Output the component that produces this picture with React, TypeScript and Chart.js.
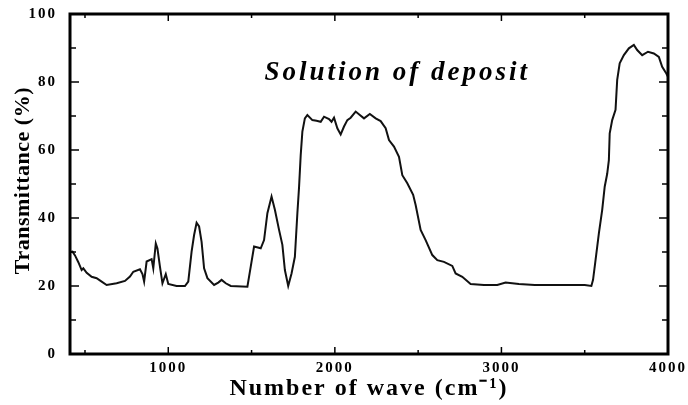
import React, { useEffect, useRef } from "react";
import { Chart, registerables } from "chart.js";

Chart.register(...registerables);

// IR spectrum of the deposit solution: wavenumber (cm-1) vs transmittance (%)
const wavenumbers = [
  410, 425, 440, 460, 480, 490, 510, 540, 570, 600, 630, 690, 740, 770, 790, 830, 845, 855, 870, 900,
  910, 925, 935, 950, 965, 985, 1000, 1050, 1100, 1120, 1140, 1155, 1170, 1185, 1200, 1215, 1235, 1275,
  1300, 1320, 1345, 1375, 1475, 1495, 1515, 1555, 1575, 1595, 1620, 1640, 1665, 1685, 1700, 1720, 1740,
  1760, 1775, 1785, 1795, 1805, 1820, 1835, 1865, 1890, 1915, 1935, 1965, 1980, 1995, 2015, 2035, 2055,
  2075, 2095, 2125, 2150, 2175, 2210, 2245, 2275, 2305, 2325, 2355, 2385, 2405, 2435, 2470, 2485, 2515,
  2545, 2585, 2615, 2655, 2705, 2725, 2765, 2815, 2895, 2975, 3025, 3105, 3200, 3300, 3400, 3500, 3540,
  3550, 3565, 3585, 3605, 3620, 3635, 3645, 3650, 3665, 3685, 3695, 3710, 3735, 3765, 3795, 3815, 3845,
  3880, 3915, 3945, 3965, 3990, 4000,
];
const transmittance = [
  30.0, 30.1, 29.0, 27.0, 24.7, 25.2, 23.9, 22.7, 22.3, 21.3, 20.3, 20.8, 21.5, 22.8, 24.2, 24.9, 23.5, 21.3, 27.2, 27.9,
  25.2, 32.5, 31.0, 25.7, 20.8, 23.5, 20.6, 20.0, 20.0, 21.3, 30.1, 35.0, 38.6, 37.5, 33.0, 25.2, 22.3, 20.3,
  21.0, 21.8, 20.8, 20.0, 19.8, 25.7, 31.6, 31.1, 33.5, 41.4, 46.3, 42.4, 36.5, 32.1, 24.7, 20.0, 23.7,
  28.6, 41.4, 49.0, 58.5, 65.4, 69.3, 70.3, 68.8, 68.6, 68.3, 69.8, 69.1, 68.3, 69.5, 66.4, 64.6, 66.9,
  68.8, 69.5, 71.3, 70.3, 69.3, 70.6, 69.3, 68.5, 66.4, 62.9, 61.0, 58.0, 52.6, 50.2, 46.8, 43.8, 36.5,
  33.5, 29.1, 27.6, 27.1, 25.9, 23.7, 22.7, 20.6, 20.3, 20.3, 21.0, 20.6, 20.3, 20.3, 20.3, 20.3, 20.0,
  21.8, 27.6, 35.5, 42.4, 49.2, 53.0, 57.0, 64.9, 68.8, 71.8, 80.6, 85.5, 87.9, 89.9, 90.9, 89.4, 87.9,
  88.9, 88.4, 87.4, 84.5, 82.5, 81.5,
];

const xMajorTicks = [1000, 2000, 3000, 4000];
const xMinorTicks = [500, 1500, 2500, 3500];
const yMajorTicks = [0, 20, 40, 60, 80, 100];
const yMinorTicks = [10, 30, 50, 70, 90];

const chartTitle = "Solution of deposit";
const xTitle = "Number of wave (cm\u207B\u00B9)";
const yTitle = "Transmittance (%)";

const SERIF = '"Liberation Serif", "Times New Roman", serif';

// Wide letter spacing for the axis text drawn by Chart.js
const spacingPlugin = {
  id: "spacing",
  beforeDraw(chart: any) {
    (chart.ctx as any).letterSpacing = "2px";
  },
};

// Boxed frame with inward ticks on all four sides, the y title and the in-plot caption
const framePlugin = {
  id: "frameTicks",
  afterDraw(chart: any) {
    const { ctx, chartArea } = chart;
    const { left, right, top, bottom } = chartArea;
    const x = chart.scales.x;
    const y = chart.scales.y;
    ctx.save();
    ctx.strokeStyle = "#000";
    ctx.lineWidth = 3;
    ctx.strokeRect(left, top, right - left, bottom - top);

    ctx.lineWidth = 1.5;
    const tick = (x1: number, y1: number, x2: number, y2: number) => {
      ctx.beginPath();
      ctx.moveTo(x1, y1);
      ctx.lineTo(x2, y2);
      ctx.stroke();
    };
    const xTicks = (vals: number[], len: number) => {
      vals.forEach((v) => {
        const px = x.getPixelForValue(v);
        tick(px, bottom, px, bottom - len);
        tick(px, top, px, top + len);
      });
    };
    const yTicks = (vals: number[], len: number) => {
      vals.forEach((v) => {
        const py = y.getPixelForValue(v);
        tick(left, py, left + len, py);
        tick(right, py, right - len, py);
      });
    };
    xTicks(xMajorTicks, 7);
    xTicks(xMinorTicks, 4);
    yTicks(yMajorTicks, 9);
    yTicks(yMinorTicks, 6);

    ctx.fillStyle = "#000";
    ctx.textAlign = "center";
    ctx.textBaseline = "middle";

    // vertical axis title
    ctx.save();
    (ctx as any).letterSpacing = "0.5px";
    ctx.font = `bold 22px ${SERIF}`;
    ctx.translate(23, y.getPixelForValue(51));
    ctx.rotate(-Math.PI / 2);
    ctx.fillText(yTitle, 0, 0);
    ctx.restore();

    // caption inside the plot
    ctx.font = `italic bold 27px ${SERIF}`;
    ctx.textBaseline = "alphabetic";
    (ctx as any).letterSpacing = "3px";
    ctx.fillText(chartTitle, x.getPixelForValue(2375), y.getPixelForValue(80.5));
    ctx.restore();
  },
};

export default function App() {
  const canvasRef = useRef<HTMLCanvasElement | null>(null);

  useEffect(() => {
    if (!canvasRef.current) return;
    const points = wavenumbers.map((w, i) => ({ x: w, y: transmittance[i] }));
    const chart = new Chart(canvasRef.current, {
      type: "line",
      data: {
        datasets: [
          {
            data: points,
            borderColor: "#111",
            borderWidth: 2,
            pointRadius: 0,
            tension: 0,
            fill: false,
          },
        ],
      },
      options: {
        responsive: false,
        animation: false,
        events: [],
        layout: { padding: { left: 0, right: 20, top: 14, bottom: 0 } },
        plugins: { legend: { display: false }, tooltip: { enabled: false } },
        scales: {
          x: {
            type: "linear",
            min: 410,
            max: 4000,
            grid: { display: false, drawTicks: false },
            border: { display: false },
            afterBuildTicks: (scale: any) => {
              scale.ticks = xMajorTicks.map((v) => ({ value: v }));
            },
            afterFit: (scale: any) => {
              scale.height = 51;
              scale.paddingLeft = 0;
              scale.paddingRight = 0;
            },
            ticks: {
              color: "#000",
              padding: 5,
              maxRotation: 0,
              font: { family: SERIF, size: 15, weight: "bold" },
              callback: (v: any) => String(v),
            },
            title: {
              display: true,
              text: xTitle,
              color: "#000",
              padding: { top: 0, bottom: 2 },
              font: { family: SERIF, size: 24, weight: "bold" },
            },
          },
          y: {
            min: 0,
            max: 100,
            grid: { display: false, drawTicks: false },
            border: { display: false },
            afterBuildTicks: (scale: any) => {
              scale.ticks = yMajorTicks.map((v) => ({ value: v }));
            },
            afterFit: (scale: any) => {
              scale.width = 70;
              scale.paddingTop = 0;
              scale.paddingBottom = 0;
            },
            ticks: {
              color: "#000",
              padding: 13,
              font: { family: SERIF, size: 15, weight: "bold" },
            },
          },
        },
      },
      plugins: [spacingPlugin, framePlugin],
    });
    return () => chart.destroy();
  }, []);

  return (
    <div style={{ position: "fixed", left: 0, top: 0, width: 688, height: 405, background: "#fff" }}>
      <canvas ref={canvasRef} width={688} height={405} />
    </div>
  );
}
